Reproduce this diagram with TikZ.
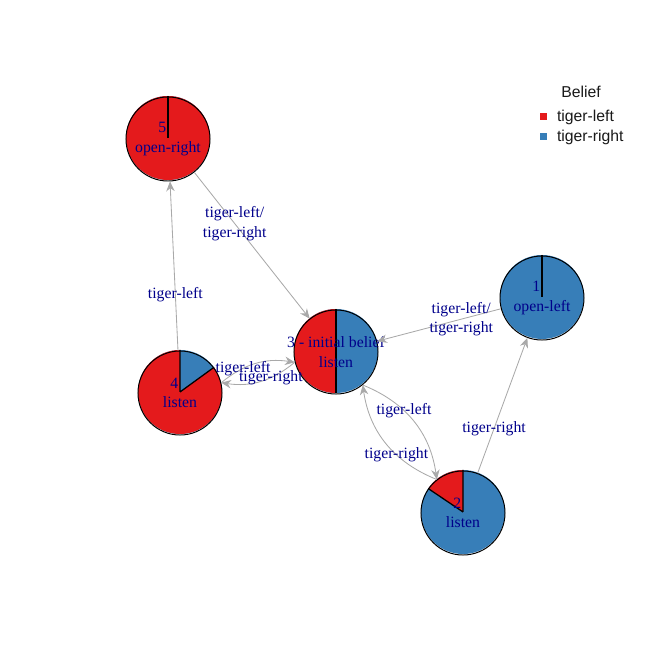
\documentclass[tikz,border=0pt]{standalone}
\usepackage{fontspec}
\setmainfont{Liberation Serif}
\setsansfont{Liberation Sans}
\usetikzlibrary{arrows.meta,positioning}
\definecolor{tigerL}{HTML}{E41A1C}
\definecolor{tigerR}{HTML}{377EB8}
\definecolor{labelblue}{HTML}{00008B}
\definecolor{edgegray}{HTML}{A9A9A9}
% #1 centre, #2 angle where the red slice stops
\newcommand{\beliefpie}[2]{%
	\fill[tigerR] (#1) circle[radius=42];
	\fill[tigerL] (#1) -- ++(90:42) arc[start angle=90, end angle=#2, radius=42] -- cycle;
	\draw[line width=0.9pt] (#1) -- ++(90:42) (#1) -- ++(#2:42);
}

\begin{document}
\begin{tikzpicture}[x=0.025cm, y=0.025cm,
	state/.style={circle, draw, line width=0.7pt, minimum size=2.1cm, inner sep=0pt, align=center, text=labelblue, font=\fontsize{11.2}{14}\selectfont},
	link/.style={draw=edgegray, line width=0.6pt, -{Stealth[length=7pt, width=6pt]}},
	lbl/.style={align=center, text=labelblue, inner sep=0pt, font=\fontsize{11.2}{14}\selectfont},
	legkey/.style={rectangle, inner sep=0pt, minimum size=0.175cm},
	legtext/.style={anchor=west, inner sep=0pt, text=black!90, font=\sffamily\fontsize{11.2}{13}\selectfont}]
	\useasboundingbox (0,0) rectangle (672,672);
	% Pies:
	\beliefpie{168,534}{450}
	\beliefpie{542,375}{90}
	\beliefpie{336,321}{270}
	\beliefpie{180,280}{396}
	\beliefpie{463,160}{146}
	% Nodes:
	\node[state] (s5) at (168,533) {5\kern8pt\\open-right};
	\node[state] (s1) at (542,374) {1\kern8pt\\open-left};
	\node[state] (s3) at (336,320) {\makebox[0pt]{3 - initial belief}\\listen};
	\node[state] (s4) at (180,279) {4\kern8pt\\listen};
	\node[state] (s2) at (463,159) {2\kern8pt\\listen};
	% Edges:
	\draw[link] (s5) -- node[lbl, pos=0.35]{tiger-left/\\tiger-right} (s3);
	\draw[link] (s4) -- node[lbl, pos=0.33]{tiger-left} (s5);
	\draw[link] (s1) -- node[lbl, pos=0.32]{tiger-left/\\tiger-right} (s3);
	\draw[link] (s2) -- node[lbl, pos=0.33]{tiger-right} (s1);
	\draw[link] (s3.194.7) to[bend left=24] node[lbl, pos=0.35]{tiger-right} (s4.14.7);
	\draw[link] (s4.14.7) to[bend left=24] node[lbl, pos=0.32]{tiger-left} (s3.194.7);
	\draw[link] (s3.-51.7) to[bend left=30] node[lbl, pos=0.38]{tiger-left} (s2.128.3);
	\draw[link] (s2.128.3) to[bend left=30] node[lbl, pos=0.37]{tiger-right} (s3.-51.7);
	% Legend:
	\node[legtext, anchor=center] (legtitle) at (581,580) {Belief};
	\node[legkey, fill=tigerL] (kl) at (543,555) {};
	\node[legkey, fill=tigerR] (kr) at (543,535) {};
	\node[legtext, right=0.25cm of kl] (tl) {tiger-left};
	\node[legtext, right=0.25cm of kr] (tr) {tiger-right};
\end{tikzpicture}
\end{document}
